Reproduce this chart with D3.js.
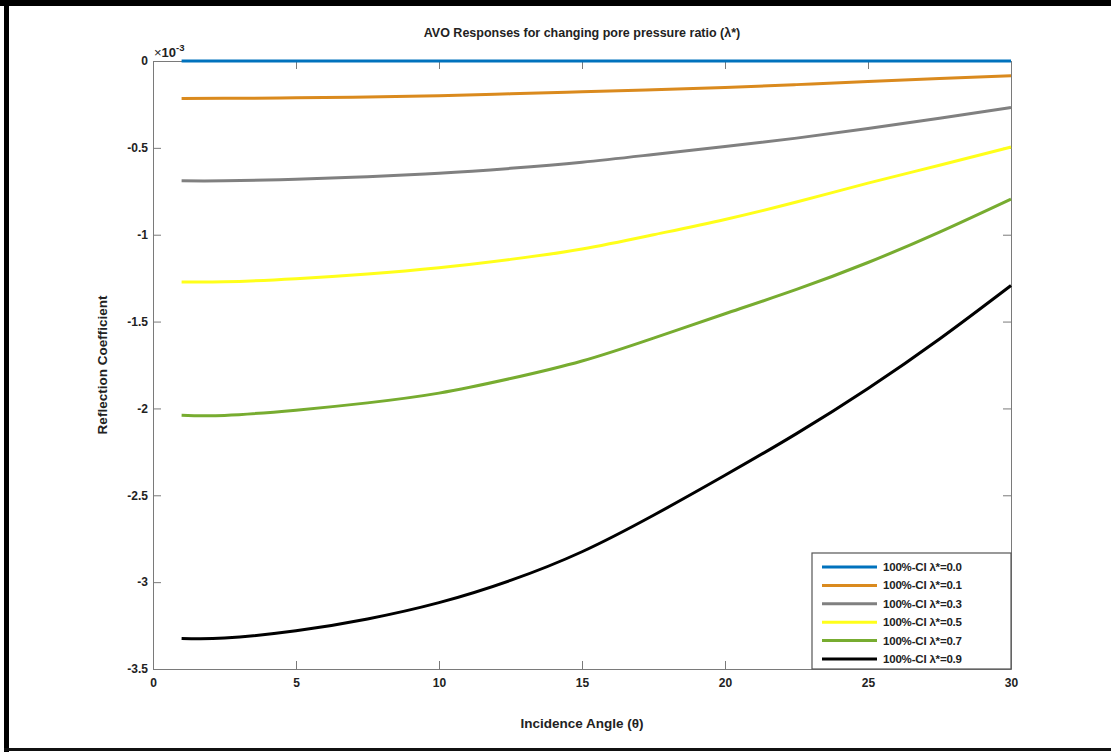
<!doctype html>
<html>
<head>
<meta charset="utf-8">
<title>AVO Responses for changing pore pressure ratio</title>
<script src="https://d3js.org/d3.v7.min.js"></script>
<style>
  body { margin: 0; background: #fff; }
  svg text { font-family: "Liberation Sans", Arial, sans-serif; font-weight: bold; fill: #222; }
  .axis path, .axis line { stroke: #7a7a7a; }
  .curve { fill: none; stroke-width: 3px; }
</style>
</head>
<body>
<div id="chart"></div>
<script>

// incidence angles (degrees) and reflection coefficients (x 1e-3)
var angles = [1, 2.5, 5, 7.5, 10, 12.5, 15, 17.5, 20, 22.5, 25, 27.5, 30];
var rc00 = [0, 0, 0, 0, 0, 0, 0, 0, 0, 0, 0, 0, 0];
var rc01 = [-0.216, -0.215, -0.212, -0.207, -0.200, -0.189, -0.177, -0.165, -0.153, -0.136, -0.118, -0.101, -0.085];
var rc03 = [-0.690, -0.690, -0.681, -0.666, -0.646, -0.618, -0.583, -0.538, -0.492, -0.444, -0.389, -0.330, -0.268];
var rc05 = [-1.272, -1.271, -1.253, -1.226, -1.190, -1.142, -1.082, -1.000, -0.912, -0.812, -0.703, -0.600, -0.495];
var rc07 = [-2.039, -2.040, -2.010, -1.968, -1.912, -1.828, -1.727, -1.595, -1.455, -1.315, -1.160, -0.985, -0.795];
var rc09 = [-3.324, -3.322, -3.280, -3.212, -3.118, -2.990, -2.825, -2.615, -2.385, -2.145, -1.885, -1.600, -1.292];

var labels = ["100%-CI \u03bb*=0.0", "100%-CI \u03bb*=0.1", "100%-CI \u03bb*=0.3",
              "100%-CI \u03bb*=0.5", "100%-CI \u03bb*=0.7", "100%-CI \u03bb*=0.9"];
var colors = ["#0072BD", "#DA8A1E", "#808080", "#FFFF1A", "#77AC30", "#000000"];
var xTicks = [0, 5, 10, 15, 20, 25, 30];
var yTicks = [0, -0.5, -1, -1.5, -2, -2.5, -3, -3.5];

var series = [rc00, rc01, rc03, rc05, rc07, rc09];

var W = 1111, H = 752;
var margin = {top: 61, right: 100, bottom: 83, left: 153};

var svg = d3.select("#chart").append("svg")
    .attr("width", W)
    .attr("height", H);

svg.append("rect").attr("width", W).attr("height", H).attr("fill", "#fff");

// frame around the figure (thick left/top, thin bottom)
svg.append("rect").attr("x", 0).attr("y", 0).attr("width", W).attr("height", 6).attr("fill", "#000");
svg.append("rect").attr("x", 4).attr("y", 0).attr("width", 5).attr("height", H).attr("fill", "#000");
svg.append("rect").attr("x", 4).attr("y", 748).attr("width", W - 4).attr("height", 3).attr("fill", "#111");

var x = d3.scaleLinear().domain([0, 30]).range([margin.left, W - margin.right]);
var y = d3.scaleLinear().domain([-3.5, 0]).range([H - margin.bottom, margin.top]);

var fmt = function(d) { return d === 0 ? "0" : String(d); };

// bottom axis
svg.append("g")
    .attr("class", "axis")
    .attr("transform", "translate(0," + y(-3.5) + ")")
    .call(d3.axisBottom(x).tickValues(xTicks).tickFormat(fmt).tickSizeInner(-8).tickSizeOuter(0).tickPadding(9))
    .call(function(g) { g.selectAll("text").style("font-size", "12px"); });

// top axis (ticks only)
svg.append("g")
    .attr("class", "axis")
    .attr("transform", "translate(0," + y(0) + ")")
    .call(d3.axisTop(x).tickValues(xTicks).tickFormat("").tickSizeInner(-8).tickSizeOuter(0));

// left axis
svg.append("g")
    .attr("class", "axis")
    .attr("transform", "translate(" + x(0) + ",0)")
    .call(d3.axisLeft(y).tickValues(yTicks).tickFormat(fmt).tickSizeInner(-8).tickSizeOuter(0).tickPadding(5))
    .call(function(g) { g.selectAll("text").style("font-size", "12px"); });

// right axis (ticks only)
svg.append("g")
    .attr("class", "axis")
    .attr("transform", "translate(" + x(30) + ",0)")
    .call(d3.axisRight(y).tickValues(yTicks).tickFormat("").tickSizeInner(-8).tickSizeOuter(0));

// exponent label
var expo = svg.append("text")
    .attr("x", x(0) + 1)
    .attr("y", y(0) - 4)
    .style("font-size", "13px");
expo.append("tspan").style("font-weight", "normal").text("\u00d7");
expo.append("tspan").text("10");
expo.append("tspan").attr("dy", -6).style("font-size", "9.5px").text("-3");

// curves
var line = d3.line()
    .x(function(d, i) { return x(angles[i]); })
    .y(function(d) { return y(d); })
    .curve(d3.curveNatural);

svg.selectAll(".curve")
    .data(series)
  .enter().append("path")
    .attr("class", "curve")
    .attr("stroke", function(d, i) { return colors[i]; })
    .attr("d", line);

// title and axis labels
svg.append("text")
    .attr("x", (x(0) + x(30)) / 2)
    .attr("y", 37)
    .attr("text-anchor", "middle")
    .style("font-size", "12.5px")
    .text("AVO Responses for changing pore pressure ratio (\u03bb*)");

svg.append("text")
    .attr("x", (x(0) + x(30)) / 2)
    .attr("y", 728)
    .attr("text-anchor", "middle")
    .style("font-size", "13.5px")
    .text("Incidence Angle (\u03b8)");

svg.append("text")
    .attr("transform", "translate(107," + ((y(0) + y(-3.5)) / 2) + ") rotate(-90)")
    .attr("text-anchor", "middle")
    .style("font-size", "13.5px")
    .text("Reflection Coefficient");

// legend
var legend = svg.append("g").attr("transform", "translate(812,553)");
legend.append("rect")
    .attr("width", 199)
    .attr("height", 116)
    .attr("fill", "#fff")
    .attr("stroke", "#555")
    .attr("stroke-width", 1.2);

var item = legend.selectAll(".item")
    .data(labels)
  .enter().append("g")
    .attr("class", "item")
    .attr("transform", function(d, i) { return "translate(0," + (14 + i * 18.4) + ")"; });

item.append("line")
    .attr("x1", 10).attr("x2", 65)
    .attr("stroke", function(d, i) { return colors[i]; })
    .attr("stroke-width", 3);

item.append("text")
    .attr("x", 71)
    .attr("dy", "0.35em")
    .attr("textLength", 79)
    .attr("lengthAdjust", "spacing")
    .style("font-size", "11.5px")
    .text(function(d) { return d; });

</script>
</body>
</html>
